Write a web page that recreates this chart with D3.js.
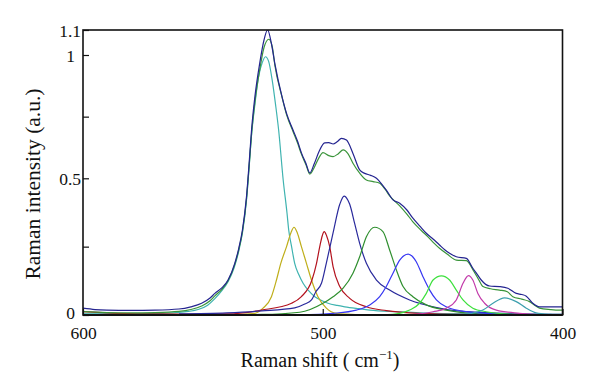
<!DOCTYPE html>
<html>
<head>
<meta charset="utf-8">
<script src="https://cdn.jsdelivr.net/npm/d3@7"></script>
<style>
  html, body { margin: 0; padding: 0; background: #fff; }
  svg { display: block; }
  text { font-family: "Liberation Serif", "DejaVu Serif", serif; fill: #111; }
</style>
</head>
<body>
<svg id="chart" width="600" height="392"></svg>
<script>
// ---- data (Raman shift in cm^-1, intensity in a.u.) ----
const xTickValues = [600, 500, 400];
const xTickLabels = ["600", "500", "400"];
const yTickValues = [0, 0.25, 0.5, 0.75, 1, 1.1];
const yTickLabels = ["0", "", "0.5", "", "1", "1.1"];

const measured = [[600,0.025],[595,0.02],[590,0.018],[580,0.017],[570,0.018],[560,0.022],[555,0.03],[550.5,0.043],[547,0.062],[545,0.079],[542,0.1],[539.5,0.128],[536.7,0.189],[535,0.245],[533.5,0.311],[531.8,0.433],[530.7,0.562],[529.7,0.696],[528.3,0.831],[526.3,0.966],[524.5,1.06],[523,1.1],[521.5,1.05],[520,0.966],[517,0.831],[515,0.76],[512.4,0.696],[510.5,0.65],[508.9,0.603],[507,0.56],[505.4,0.522],[503.5,0.56],[501.5,0.61],[499.2,0.644],[497.5,0.645],[495.7,0.639],[494,0.648],[492.2,0.662],[490.1,0.655],[487.4,0.601],[484.6,0.534],[482.5,0.52],[480,0.512],[477.6,0.5],[475.5,0.48],[473.5,0.457],[470.7,0.421],[467.9,0.409],[465,0.385],[462.4,0.354],[459.5,0.325],[456.8,0.299],[454,0.278],[451.3,0.256],[449,0.238],[447.1,0.226],[444.3,0.213],[440.1,0.207],[437.4,0.171],[435.5,0.148],[433.9,0.128],[430.4,0.106],[426.3,0.104],[422.8,0.098],[419.3,0.079],[417,0.075],[415.1,0.069],[412.4,0.043],[409.6,0.03],[405,0.03],[400,0.03]];

const fitSum = [[600,0.012],[590,0.009],[580,0.008],[570,0.009],[560,0.013],[555,0.02],[550.5,0.033],[547,0.052],[545,0.07],[542,0.095],[539.5,0.125],[536.7,0.185],[535,0.24],[533.5,0.305],[531.8,0.425],[530.7,0.55],[529.7,0.68],[528.3,0.81],[526.3,0.94],[524.5,1.03],[522.5,1.063],[521,1.03],[520,0.96],[517,0.83],[515,0.755],[512.4,0.69],[510.5,0.643],[508.9,0.598],[507,0.555],[505.4,0.517],[503.5,0.545],[501.5,0.585],[499.9,0.604],[497.5,0.592],[495.7,0.588],[493.5,0.6],[491.5,0.615],[489.5,0.6],[487.4,0.561],[484.6,0.521],[481.8,0.494],[479,0.488],[476.25,0.482],[474,0.46],[472.1,0.436],[468,0.4],[465,0.37],[462.4,0.341],[459,0.31],[456,0.285],[453.5,0.262],[451.3,0.244],[448,0.222],[444.3,0.201],[440.1,0.199],[437,0.16],[435,0.13],[433.2,0.104],[430,0.096],[426.3,0.091],[423,0.085],[420.7,0.067],[417,0.058],[413.75,0.049],[411.5,0.035],[409.6,0.025],[405,0.02],[401.25,0.018],[400,0.018]];

const peak523 = [[600,0.004],[580,0.005],[565,0.007],[556,0.013],[552,0.02],[548,0.036],[545,0.06],[542,0.09],[539.5,0.122],[537,0.172],[535,0.235],[533.5,0.3],[531.8,0.42],[530.7,0.545],[529.7,0.675],[528.3,0.8],[526.8,0.91],[525.2,0.97],[523.9,0.993],[522.6,0.975],[521.1,0.899],[519.7,0.8],[518.4,0.696],[516.5,0.494],[514.9,0.372],[514.2,0.311],[513,0.25],[511.7,0.189],[510,0.148],[508.2,0.116],[506,0.09],[503.3,0.067],[500.5,0.053],[497.8,0.043],[494,0.035],[490.8,0.03],[485,0.023],[480.4,0.018],[470,0.012],[459.6,0.008],[440,0.004],[420,0.003],[400,0.002]];

const peak512 = [[545,0.0],[535,0.002],[528.3,0.006],[524.9,0.025],[521.4,0.067],[519.3,0.128],[517.5,0.189],[515.1,0.25],[513.3,0.3],[512.0,0.321],[510.6,0.3],[508.9,0.25],[506.8,0.189],[504.7,0.128],[502.0,0.067],[498.5,0.025],[494.3,0.006],[485,0.001]];

const peak499 = [[600,0.012],[590,0.008],[575,0.004],[560,0.003],[539.6,0.004],[525.5,0.018],[513.0,0.043],[508.9,0.067],[504.5,0.128],[502.6,0.189],[501.25,0.25],[500.2,0.29],[499.4,0.305],[498.4,0.29],[497.1,0.25],[495.7,0.177],[492.9,0.104],[488.75,0.061],[481.8,0.03],[473.5,0.016],[459.6,0.006],[440,0.002]];

const peak491 = [[560,0.004],[540,0.008],[525.4,0.015],[511.7,0.026],[507.5,0.04],[504.7,0.055],[502.9,0.085],[500.5,0.117],[498.5,0.19],[495.7,0.3],[492.9,0.405],[491.1,0.435],[489.5,0.42],[488.75,0.405],[486.7,0.335],[484.6,0.262],[481.8,0.189],[477.6,0.128],[472.1,0.091],[463.75,0.055],[454.0,0.03],[440.1,0.012],[417.9,0.004],[400,0.002]];

const peak478 = [[560,0.0],[525.4,0.002],[509.6,0.01],[499.9,0.043],[495.7,0.067],[491.5,0.098],[487.4,0.153],[484.6,0.213],[481.8,0.286],[478.3,0.321],[474.9,0.305],[472.1,0.238],[469.3,0.165],[466.5,0.104],[462.4,0.067],[456.8,0.037],[448.5,0.018],[437.4,0.006],[420,0.001]];

const peak464 = [[510,0.0],[495.7,0.006],[486.0,0.018],[480.4,0.037],[476.25,0.067],[473.5,0.104],[470.7,0.153],[467.9,0.201],[464.4,0.223],[461.0,0.195],[458.2,0.14],[455.4,0.091],[452.6,0.055],[448.5,0.03],[440.1,0.012],[425,0.003],[410,0.0]];

const peak450 = [[475,0.0],[468,0.006],[463.75,0.018],[459.6,0.043],[456.8,0.079],[454.0,0.128],[450.5,0.143],[447.1,0.128],[444.3,0.091],[441.5,0.055],[437.4,0.025],[431.8,0.012],[420,0.002],[410,0.0]];

const peak439 = [[465,0.0],[454,0.012],[448.5,0.025],[444.3,0.055],[441.5,0.116],[439.2,0.144],[437.4,0.128],[435.3,0.079],[432.5,0.043],[427.6,0.018],[417.9,0.006],[405,0.0]];

const peak424 = [[445,0.0],[438,0.006],[433.2,0.018],[429.0,0.043],[424.2,0.063],[419.3,0.049],[415.1,0.025],[411.0,0.008],[405,0.002],[400,0.0]];

const seriesList = [
  { data: peak523,  color: "#3fb3b0" },
  { data: peak512,  color: "#bfae1a" },
  { data: peak499,  color: "#b3121e" },
  { data: peak491,  color: "#2a2a9c" },
  { data: peak478,  color: "#2f8f2f" },
  { data: peak464,  color: "#3737f2" },
  { data: peak450,  color: "#3de03d" },
  { data: peak439,  color: "#c23aaa" },
  { data: peak424,  color: "#3d9fae" },
  { data: fitSum,   color: "#3a943a" },
  { data: measured, color: "#242490" }
];

// ---- layout ----
const svg = d3.select("#chart");
const L = 83, R = 562.5, T = 30, B = 315;

const x = d3.scaleLinear().domain([600, 400]).range([L, R]);
const y = d3.scaleLinear().domain([0, 0.5, 1, 1.1]).range([B, 178.3, 55, T]);

svg.append("defs").append("clipPath").attr("id", "clip")
  .append("rect").attr("x", L).attr("y", T).attr("width", R - L).attr("height", B - T);

const line = d3.line()
  .x(d => x(d[0]))
  .y(d => y(d[1]))
  .curve(d3.curveMonotoneX);

const g = svg.append("g").attr("clip-path", "url(#clip)");
seriesList.forEach(s => {
  g.append("path")
    .datum(s.data)
    .attr("fill", "none")
    .attr("stroke", s.color)
    .attr("stroke-width", 1.2)
    .attr("stroke-linejoin", "round")
    .attr("d", line);
});

// frame
svg.append("rect")
  .attr("x", L).attr("y", T).attr("width", R - L).attr("height", B - T)
  .attr("fill", "none").attr("stroke", "#111").attr("stroke-width", 1.6);
svg.append("line")
  .attr("x1", L).attr("x2", R).attr("y1", B).attr("y2", B)
  .attr("stroke", "#111").attr("stroke-width", 2.2);

// y axis ticks (inward)
const yAxis = d3.axisLeft(y)
  .tickValues(yTickValues)
  .tickSize(-6)
  .tickFormat((d, i) => yTickLabels[i]);
const ya = svg.append("g").attr("transform", `translate(${L},0)`).call(yAxis);
ya.select(".domain").remove();
ya.selectAll(".tick line").attr("stroke", "#111").attr("stroke-width", 1.2);
ya.selectAll(".tick text")
  .attr("x", (d, i) => yTickLabels[i].length > 1 ? -2 : -8)
  .attr("dy", d => d === 0 ? "0.22em" : "0.35em")
  .style("font-size", "17.5px")
  .style("font-family", "'Liberation Serif', serif")
  .attr("fill", "#111");

// x axis ticks (inward)
const xAxis = d3.axisBottom(x)
  .tickValues(xTickValues)
  .tickSize(-6)
  .tickFormat((d, i) => xTickLabels[i]);
const xa = svg.append("g").attr("transform", `translate(0,${B})`).call(xAxis);
xa.select(".domain").remove();
xa.selectAll(".tick line").attr("stroke", "#111").attr("stroke-width", 1.2);
xa.selectAll(".tick text")
  .attr("y", 24)
  .attr("dy", 0)
  .style("font-size", "17.5px")
  .style("font-family", "'Liberation Serif', serif")
  .attr("fill", "#111");

// axis titles
const xt = svg.append("text")
  .attr("x", 320).attr("y", 367)
  .attr("text-anchor", "middle")
  .style("font-size", "20px");
xt.append("tspan").text("Raman shift ( cm");
xt.append("tspan").text("\u22121").attr("dy", -8).style("font-size", "13px");
xt.append("tspan").text(")").attr("dy", 8);

svg.append("text")
  .attr("transform", "translate(40,184) rotate(-90)")
  .attr("text-anchor", "middle")
  .style("font-size", "21.5px")
  .text("Raman intensity (a.u.)");
</script>
</body>
</html>
